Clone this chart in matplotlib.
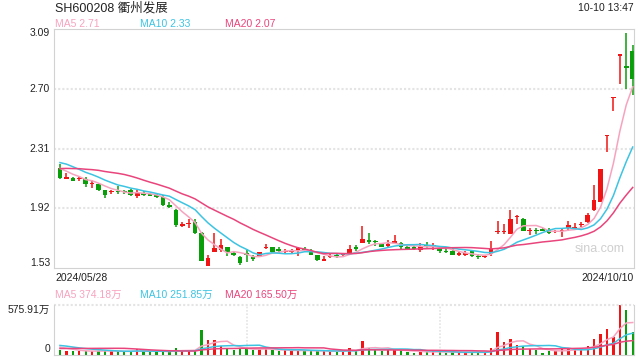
import numpy as np
import pandas as pd
import matplotlib
matplotlib.use('Agg')
import matplotlib.pyplot as plt

plt.rcParams['font.family'] = ['Liberation Sans', 'Noto Sans CJK SC', 'DejaVu Sans']

title = 'SH600208 衢州发展'
stamp = '10-10 13:47'
first_date = '2024/05/28'
last_date = '2024/10/10'
price_legend = ['MA5 2.71', 'MA10 2.33', 'MA20 2.07']
vol_legend = ['MA5 374.18万', 'MA10 251.85万', 'MA20 165.50万']
price_ticks = [1.53, 1.92, 2.31, 2.70, 3.09]
vol_ticks = [0, 575.91]

opens = [2.18, 2.115, 2.115, 2.112, 2.108, 2.078, 2.076, 2.037, 2.027, 2.033,
         2.029, 2.037, 2.00, 2.017, 2.009, 2.005, 1.996, 1.942, 1.907, 1.81,
         1.82, 1.829, 1.757, 1.545, 1.636, 1.646, 1.666, 1.622, 1.599, 1.625,
         1.597, 1.606, 1.662, 1.664, 1.653, 1.637, 1.637, 1.638, 1.65, 1.638,
         1.612, 1.578, 1.601, 1.613, 1.612, 1.623, 1.662, 1.693, 1.706, 1.709,
         1.691, 1.676, 1.698, 1.691, 1.662, 1.662, 1.65, 1.678, 1.675, 1.661,
         1.64, 1.639, 1.622, 1.622, 1.639, 1.607, 1.605, 1.623, 1.767, 1.769,
         1.755, 1.867, 1.847, 1.773, 1.775, 1.785, 1.777, 1.769, 1.773, 1.788,
         1.793, 1.813, 1.829, 1.906, 1.963, 2.389, 2.64, 2.918, 2.849, 2.945]
highs = [2.21, 2.15, 2.125, 2.126, 2.126, 2.105, 2.085, 2.039, 2.04, 2.065,
         2.04, 2.045, 2.04, 2.033, 2.017, 2.017, 2.007, 1.959, 1.916, 1.833,
         1.851, 1.851, 1.764, 1.612, 1.757, 1.721, 1.666, 1.634, 1.606, 1.656,
         1.612, 1.634, 1.686, 1.666, 1.666, 1.656, 1.656, 1.666, 1.666, 1.656,
         1.617, 1.606, 1.627, 1.627, 1.63, 1.682, 1.682, 1.807, 1.759, 1.715,
         1.691, 1.711, 1.748, 1.702, 1.676, 1.676, 1.693, 1.698, 1.693, 1.672,
         1.661, 1.661, 1.634, 1.639, 1.65, 1.623, 1.617, 1.709, 1.836, 1.82,
         1.908, 1.879, 1.858, 1.792, 1.788, 1.79, 1.788, 1.781, 1.79, 1.836,
         1.825, 1.829, 1.89, 2.074, 2.179, 2.40, 2.645, 2.923, 3.063, 2.984]
lows = [2.11, 2.11, 2.095, 2.098, 2.06, 2.055, 2.03, 1.987, 2.011, 2.011,
        2.011, 2.00, 1.99, 2.003, 2.00, 1.989, 1.937, 1.92, 1.799, 1.796,
        1.79, 1.751, 1.578, 1.545, 1.636, 1.636, 1.606, 1.606, 1.547, 1.569,
        1.573, 1.601, 1.653, 1.627, 1.627, 1.621, 1.621, 1.606, 1.632, 1.612,
        1.578, 1.578, 1.595, 1.595, 1.61, 1.623, 1.639, 1.693, 1.689, 1.676,
        1.665, 1.667, 1.689, 1.656, 1.645, 1.645, 1.637, 1.661, 1.65, 1.628,
        1.628, 1.612, 1.606, 1.606, 1.604, 1.586, 1.595, 1.61, 1.755, 1.755,
        1.755, 1.818, 1.77, 1.748, 1.755, 1.772, 1.755, 1.759, 1.731, 1.774,
        1.777, 1.798, 1.825, 1.901, 1.963, 2.284, 2.558, 2.733, 2.70, 2.656]
closes = [2.12, 2.12, 2.10, 2.115, 2.078, 2.085, 2.04, 2.007, 2.03, 2.024,
          2.027, 2.007, 2.022, 2.01, 2.006, 1.991, 1.942, 1.929, 1.812, 1.812,
          1.822, 1.757, 1.578, 1.595, 1.66, 1.677, 1.632, 1.62, 1.562, 1.612,
          1.595, 1.632, 1.664, 1.634, 1.638, 1.639, 1.639, 1.66, 1.648, 1.617,
          1.584, 1.588, 1.61, 1.611, 1.627, 1.656, 1.66, 1.722, 1.704, 1.698,
          1.665, 1.689, 1.70, 1.665, 1.66, 1.66, 1.676, 1.676, 1.677, 1.639,
          1.638, 1.617, 1.623, 1.623, 1.61, 1.605, 1.606, 1.661, 1.768, 1.77,
          1.847, 1.868, 1.774, 1.774, 1.774, 1.774, 1.757, 1.77, 1.774, 1.809,
          1.794, 1.814, 1.879, 1.971, 2.175, 2.398, 2.645, 2.923, 2.836, 2.761]
# volume in 万
volumes = [63, 43, 43, 43, 47, 47, 47, 47, 43, 43,
           31, 43, 67, 43, 31, 39, 43, 39, 86, 47,
           47, 51, 286, 168, 168, 102, 71, 59, 67, 78,
           63, 67, 71, 55, 43, 55, 43, 67, 43, 43,
           43, 43, 43, 43, 43, 75, 43, 157, 86, 63,
           43, 63, 63, 55, 31, 20, 43, 35, 43, 35,
           20, 35, 20, 35, 35, 27, 27, 86, 262, 145,
           190, 118, 100, 70, 56, 27, 45, 43, 67, 77,
           59, 59, 98, 188, 243, 298, 208, 575.91, 521, 268]

# sessions before the window, only feed the moving averages
prior_closes = [2.10, 2.12, 2.13, 2.15, 2.14, 2.13, 2.16, 2.15, 2.14, 2.18,
                2.22, 2.27, 2.29, 2.27, 2.23, 2.21, 2.20, 2.19, 2.18]
prior_volumes = [38, 42, 35, 45, 40, 37, 44, 39, 41, 39,
                 120, 150, 140, 125, 115, 105, 100, 95, 87]

RED = '#f01414'
GREEN = '#0a9e0a'
MA_COLORS = ['#f7a3bf', '#3cc4e2', '#e9457c']
GRID = '#e4e4e4'
FRAME = '#d2d2d2'

fig = plt.figure(figsize=(6.4, 3.6), dpi=100, facecolor='white')
ax = fig.add_axes([54 / 640, 92 / 360, 580 / 640, 239 / 360])
axv = fig.add_axes([54 / 640, 5 / 360, 580 / 640, 50 / 360])

o, h, l, c = map(np.array, (opens, highs, lows, closes))
idx = np.arange(len(c))
up = c >= o
cols = np.where(up, RED, GREEN)

#candles
ax.vlines(idx, l, h, colors=cols, lw=1.1, zorder=2)
body = np.abs(c - o)
minh = 0.009
lo = np.where(body < minh, (o + c) / 2 - minh / 2, np.minimum(o, c))
ax.bar(idx, np.maximum(body, minh), 0.72, bottom=lo, color=cols, zorder=2)

#moving averages
full_c = pd.Series(prior_closes + closes)
full_v = pd.Series(prior_volumes + volumes)
n0 = len(prior_closes)
for n, col in zip([5, 10, 20], MA_COLORS):
    ax.plot(idx, full_c.rolling(n).mean().values[n0:], color=col, lw=1.1, zorder=3)
    axv.plot(idx, full_v.rolling(n).mean().values[n0:], color=col, lw=1.1, zorder=3)

ax.set_xlim(-0.93, 89.2)
ax.set_ylim(price_ticks[0], price_ticks[-1])
for v in price_ticks[1:-1]:
    ax.axhline(v, color=GRID, lw=1.5, ls=(0, (1, 1)), zorder=1)
for s in ax.spines.values():
    s.set_color(FRAME)
ax.set_xticks([])
ax.set_yticks([])
for k, v in enumerate(price_ticks):
    dy = 5 if k == 0 else (-4 if k == len(price_ticks) - 1 else 0)
    ax.annotate('%.2f' % v, xy=(0, v), xycoords=ax.get_yaxis_transform(),
                xytext=(-4, dy), textcoords='offset pixels',
                ha='right', va='center', fontsize=7.5, color='#222222')
ax.text(0.941, 0.08, 'sina.com', transform=ax.transAxes, ha='center', va='center',
        fontsize=9, color='#cfcfcf')

# volume
axv.bar(idx, volumes, 0.36, color=cols, zorder=2)
axv.set_xlim(-0.93, 89.2)
axv.set_ylim(vol_ticks[0], vol_ticks[-1])
axv.axhline(vol_ticks[-1], color=GRID, lw=1.5, ls=(0, (1, 1)), clip_on=False)
for xv in [29, 59]:
    axv.axvline(xv, color=GRID, lw=1.2, ls=(0, (1, 1)), zorder=1)
axv.spines['top'].set_visible(False)
for s in ['left', 'right', 'bottom']:
    axv.spines[s].set_color(FRAME)
axv.set_xticks([])
axv.set_yticks([])
axv.annotate('0', xy=(0, 0), xycoords=axv.get_yaxis_transform(),
             xytext=(-4, 6), textcoords='offset pixels',
             ha='right', va='center', fontsize=7.5, color='#222222')
axv.annotate('%.2f万' % vol_ticks[-1], xy=(0, vol_ticks[-1]), xycoords=axv.get_yaxis_transform(),
             xytext=(-4, -5), textcoords='offset pixels',
             ha='right', va='center', fontsize=7.5, color='#222222')

# header texts
fig.text(55 / 640, 1 - 8 / 360, title, ha='left', va='center', fontsize=9, color='#222222')
fig.text(634 / 640, 1 - 8 / 360, stamp, ha='right', va='center', fontsize=7.5, color='#222222')
for xl, txt, col in zip([55, 140, 225], price_legend, MA_COLORS):
    fig.text(xl / 640, 1 - 24 / 360, txt, ha='left', va='center', fontsize=7.5, color=col)
for xl, txt, col in zip([55, 140, 225], vol_legend, MA_COLORS):
    fig.text(xl / 640, 1 - 295 / 360, txt, ha='left', va='center', fontsize=7.5, color=col)
fig.text(55 / 640, 1 - 278 / 360, first_date, ha='left', va='center', fontsize=7.5, color='#222222')
fig.text(634 / 640, 1 - 278 / 360, last_date, ha='right', va='center', fontsize=7.5, color='#222222')

fig.savefig('out.png', dpi=100, facecolor='white')
